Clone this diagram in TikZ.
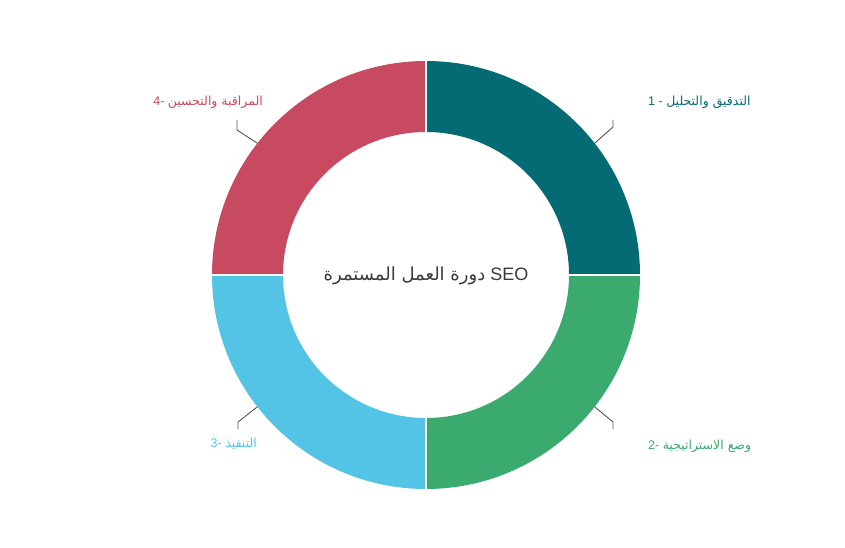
\documentclass[tikz,border=0pt]{standalone}
\usepackage{fontspec}
\setmainfont{Liberation Sans}
\newfontfamily\arabicfont[Script=Arabic]{DejaVu Sans}
\TeXXeTstate=1
\usetikzlibrary{calc}
\definecolor{segA}{HTML}{046A74}
\definecolor{segB}{HTML}{3AAA6E}
\definecolor{segC}{HTML}{54C4E6}
\definecolor{segD}{HTML}{C84A60}
\definecolor{leadergray}{HTML}{555555}
\definecolor{centertext}{HTML}{3A3A3A}
\begin{document}
\begin{tikzpicture}[x=1pt,y=1pt,
  leaderline/.style={draw=leadergray, line width=0.9pt},
  steplabel/.style={inner sep=0pt, font=\fontsize{12.5}{15}\selectfont},
  centerlabel/.style={inner sep=0pt, text=centertext, font=\fontsize{18}{22}\selectfont},
  separator/.style={draw=white, line width=1.8pt}]
\useasboundingbox[fill=white] (0,0) rectangle (845,547);
\coordinate (c) at (426,272);
\def\Ro{214}
\def\Ri{143}
\foreach \a/\col in {0/segA,270/segB,180/segC,90/segD}{
  \fill[\col] ($(c)+(\a:\Ro)$) arc[start angle=\a, end angle=\a+90, radius=\Ro]
    -- ($(c)+(\a+90:\Ri)$) arc[start angle=\a+90, end angle=\a, radius=\Ri] -- cycle;
}
\draw[separator] ($(c)+(-\Ro-3,0)$) -- ($(c)+(\Ro+3,0)$);
\draw[separator] ($(c)+(0,-\Ro-3)$) -- ($(c)+(0,\Ro+3)$);
% center title
\node[centerlabel, anchor=base] (title) at (426,267) {{\arabicfont\beginR دورة العمل المستمرة\endR} SEO};
% labels
\node[steplabel, text=segA, anchor=base west] (l1) at (648,441.5) {1 - {\arabicfont\beginR التدقيق والتحليل\endR}};
\node[steplabel, text=segB, anchor=base west] (l2) at (648,97.5) {2- {\arabicfont\beginR وضع الاستراتيجية\endR}};
\node[steplabel, text=segC, anchor=base east] (l3) at (257,99.5) {3- {\arabicfont\beginR التنفيذ\endR}};
\node[steplabel, text=segD, anchor=base east] (l4) at (263,441.5) {4- {\arabicfont\beginR المراقبة والتحسين\endR}};
% leader lines
\coordinate (p1) at ($(c)+(38:\Ro)$);
\coordinate (k1) at (613,420);
\coordinate (e1) at (613,427);
\coordinate (p2) at ($(c)+(-38:\Ro)$);
\coordinate (k2) at (613,125);
\coordinate (e2) at (613,118);
\coordinate (p3) at ($(c)+(218:\Ro)$);
\coordinate (k3) at (238,125);
\coordinate (e3) at (238,118);
\coordinate (p4) at ($(c)+(142:\Ro)$);
\coordinate (k4) at (237,417);
\coordinate (e4) at (237,427);
\draw[leaderline] (p1) -- (k1) -- (e1);
\draw[leaderline] (p2) -- (k2) -- (e2);
\draw[leaderline] (p3) -- (k3) -- (e3);
\draw[leaderline] (p4) -- (k4) -- (e4);
\end{tikzpicture}
\end{document}
